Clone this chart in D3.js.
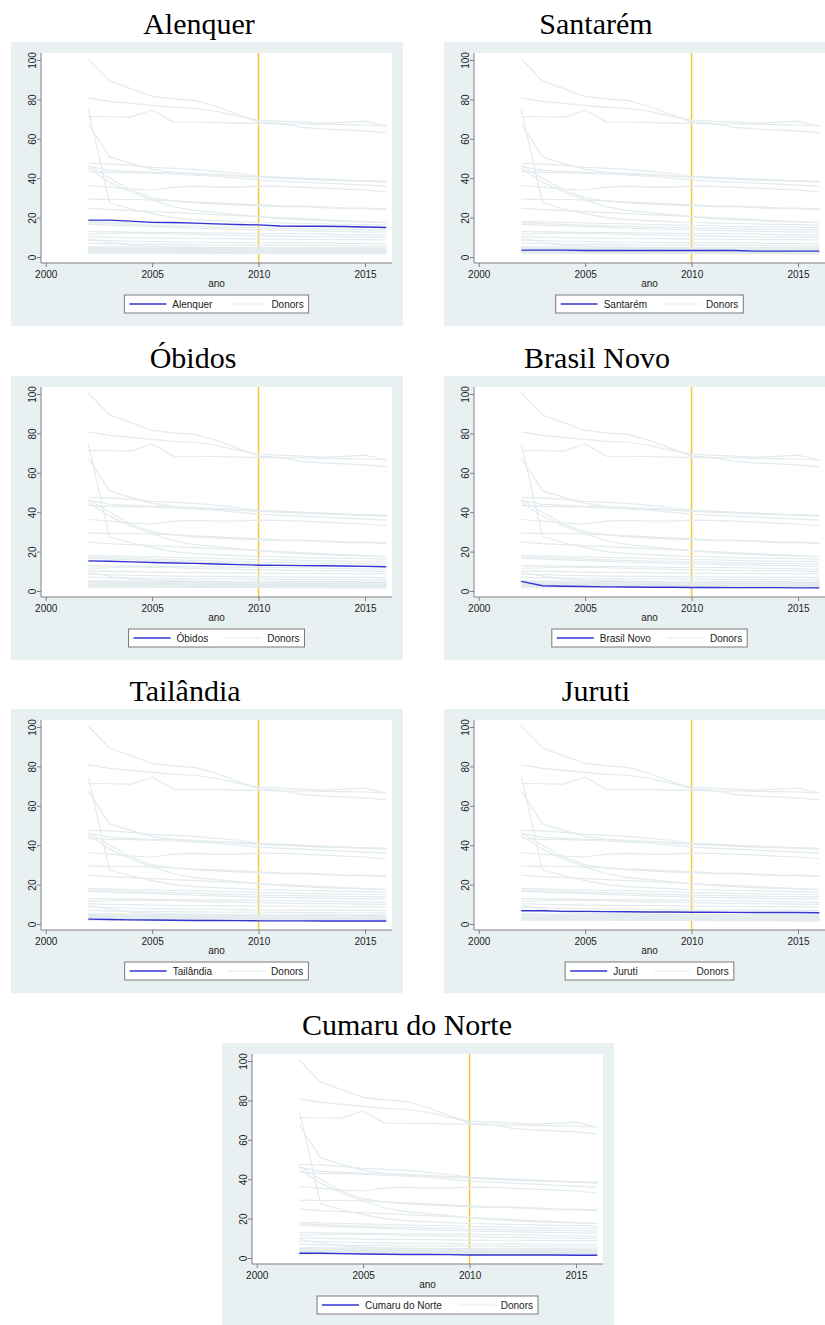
<!DOCTYPE html>
<html>
<head>
<meta charset="utf-8">
<script src="https://cdn.jsdelivr.net/npm/d3@7"></script>
<style>
  body { margin: 0; background: #ffffff; }
  svg { display: block; }
</style>
</head>
<body>
<svg id="chart" width="825" height="1325"></svg>
<script>
// ---- data -------------------------------------------------------------
const years = [2002, 2003, 2004, 2005, 2006, 2007, 2008, 2009, 2010, 2011, 2012, 2013, 2014, 2015, 2016];
const xTicks = [2000, 2005, 2010, 2015];
const yTicks = [0, 20, 40, 60, 80, 100];
const treatmentYear = 2010;

// donor pool trajectories, one row per municipality (2002–2016)
const donorSeries = [
  [100.5, 89.3, 85.5, 81.5, 80.3, 79.5, 76.5, 72.5, 68.5, 67.8, 65.8, 65.0, 64.5, 64.0, 63.0],
  [80.8, 79.0, 78.0, 77.0, 76.0, 75.5, 74.0, 71.5, 69.5, 69.0, 68.5, 68.0, 68.3, 69.0, 66.5],
  [71.3, 71.2, 71.0, 74.6, 68.5, 68.4, 68.3, 68.0, 67.8, 67.6, 67.5, 67.3, 67.2, 67.0, 66.5],
  [67.5, 50.8, 47.5, 44.5, 43.0, 42.0, 41.5, 41.0, 40.5, 40.0, 39.5, 39.0, 38.8, 38.5, 38.3],
  [74.8, 27.5, 24.5, 22.0, 20.0, 19.0, 18.5, 18.0, 17.5, 17.3, 17.0, 16.8, 16.6, 16.4, 16.2],
  [47.5, 47.3, 46.5, 45.5, 45.0, 44.5, 43.5, 42.5, 41.0, 40.5, 40.0, 39.5, 39.0, 38.7, 38.5],
  [46.0, 44.0, 43.5, 43.0, 42.8, 42.5, 42.0, 41.5, 40.5, 40.0, 39.8, 39.5, 39.0, 38.5, 38.0],
  [43.5, 43.0, 42.8, 42.5, 42.0, 41.5, 41.0, 40.0, 39.0, 38.5, 38.0, 37.5, 37.0, 36.5, 36.0],
  [46.5, 40.0, 34.0, 30.0, 28.5, 27.5, 27.0, 26.5, 26.0, 25.5, 25.5, 25.0, 24.5, 24.5, 24.0],
  [45.0, 38.0, 33.0, 29.0, 25.5, 23.5, 22.5, 21.5, 20.5, 19.5, 19.0, 18.5, 18.0, 17.8, 17.5],
  [36.3, 35.5, 34.5, 34.0, 35.5, 35.8, 35.5, 35.5, 36.0, 35.8, 35.5, 35.0, 34.5, 34.0, 33.0],
  [29.4, 29.3, 29.2, 29.0, 28.5, 28.0, 27.5, 27.0, 26.5, 26.0, 25.8, 25.5, 25.0, 24.8, 24.5],
  [24.8, 24.0, 23.5, 23.0, 22.5, 22.0, 21.5, 21.0, 20.5, 20.0, 19.5, 19.0, 18.5, 18.0, 17.5],
  [18.0, 17.8, 17.5, 17.3, 17.0, 16.8, 16.5, 16.3, 16.0, 15.8, 15.5, 15.3, 15.2, 15.1, 15.0],
  [17.3, 17.0, 16.6, 16.2, 15.8, 15.5, 15.2, 15.0, 14.7, 14.5, 14.3, 14.1, 14.0, 13.9, 13.8],
  [16.6, 16.2, 15.8, 15.4, 15.0, 14.6, 14.3, 14.0, 13.7, 13.5, 13.3, 13.1, 12.9, 12.8, 12.7],
  [12.9, 12.8, 12.6, 12.5, 12.4, 12.3, 12.2, 12.0, 12.0, 11.9, 11.8, 11.6, 11.4, 11.2, 11.0],
  [11.5, 11.8, 12.2, 12.0, 11.8, 11.5, 11.2, 11.0, 10.8, 10.6, 10.5, 10.3, 10.2, 10.1, 10.0],
  [10.3, 10.0, 9.8, 9.6, 9.5, 9.4, 9.3, 9.2, 9.1, 9.0, 9.0, 8.9, 8.8, 8.8, 8.7],
  [8.6, 8.3, 8.0, 7.8, 7.6, 7.5, 7.4, 7.3, 7.2, 7.1, 7.0, 7.0, 6.9, 6.9, 6.8],
  [7.0, 6.7, 6.5, 6.4, 6.3, 6.2, 6.1, 6.0, 6.0, 5.9, 5.8, 5.8, 5.7, 5.7, 5.6],
  [9.5, 7.5, 6.0, 5.5, 5.2, 5.0, 4.9, 4.8, 4.8, 4.7, 4.7, 4.6, 4.6, 4.5, 4.5],
  [5.2, 5.1, 5.0, 5.0, 4.9, 4.9, 4.8, 4.8, 4.7, 4.7, 4.6, 4.6, 4.6, 4.5, 4.5],
  [4.8, 4.2, 3.8, 3.6, 3.4, 3.3, 3.2, 3.1, 3.0, 3.0, 2.9, 2.9, 2.8, 2.8, 2.8],
  [4.6, 4.5, 4.4, 4.4, 4.3, 4.3, 4.2, 4.2, 4.1, 4.1, 4.0, 4.0, 4.0, 3.9, 3.9],
  [4.1, 4.0, 3.9, 3.9, 3.8, 3.8, 3.7, 3.7, 3.6, 3.6, 3.6, 3.5, 3.5, 3.5, 3.4],
  [3.6, 3.5, 3.5, 3.4, 3.4, 3.3, 3.3, 3.2, 3.2, 3.2, 3.1, 3.1, 3.1, 3.0, 3.0],
  [3.2, 3.1, 3.1, 3.0, 3.0, 2.9, 2.9, 2.9, 2.8, 2.8, 2.8, 2.7, 2.7, 2.7, 2.6],
  [2.8, 2.7, 2.7, 2.6, 2.6, 2.5, 2.5, 2.5, 2.4, 2.4, 2.4, 2.3, 2.3, 2.3, 2.2],
  [2.4, 2.3, 2.3, 2.2, 2.2, 2.2, 2.1, 2.1, 2.1, 2.0, 2.0, 2.0, 1.9, 1.9, 1.9],
  [2.0, 2.0, 1.9, 1.9, 1.9, 1.8, 1.8, 1.8, 1.8, 1.7, 1.7, 1.7, 1.7, 1.6, 1.6]
];

// treated municipalities
const alenquer     = [18.7, 18.7, 18.2, 17.6, 17.5, 17.2, 16.8, 16.5, 16.3, 15.7, 15.6, 15.6, 15.5, 15.2, 15.0];
const santarem     = [3.5, 3.5, 3.5, 3.3, 3.3, 3.3, 3.3, 3.3, 3.3, 3.3, 3.3, 3.0, 3.0, 3.0, 3.0];
const obidos       = [15.3, 15.1, 14.8, 14.5, 14.2, 14.0, 13.7, 13.4, 13.1, 13.0, 12.9, 12.8, 12.7, 12.5, 12.3];
const brasilNovo   = [4.9, 2.7, 2.4, 2.3, 2.1, 2.0, 1.9, 1.9, 1.8, 1.8, 1.7, 1.7, 1.7, 1.6, 1.6];
const tailandia    = [2.5, 2.3, 2.1, 2.0, 1.9, 1.8, 1.8, 1.7, 1.6, 1.6, 1.6, 1.5, 1.5, 1.5, 1.5];
const juruti       = [6.7, 6.7, 6.4, 6.4, 6.3, 6.2, 6.1, 6.1, 6.0, 6.0, 5.9, 5.8, 5.8, 5.8, 5.7];
const cumaruNorte  = [2.4, 2.4, 2.2, 2.0, 1.9, 1.8, 1.8, 1.7, 1.5, 1.5, 1.5, 1.5, 1.5, 1.4, 1.4];

const panelNames  = ["Alenquer", "Santarém", "Óbidos", "Brasil Novo", "Tailândia", "Juruti", "Cumaru do Norte"];
const panelSeries = [alenquer, santarem, obidos, brasilNovo, tailandia, juruti, cumaruNorte];
const donorLabel  = "Donors";
const xAxisTitle  = "ano";

// ---- layout -----------------------------------------------------------
const W = 392, H = 284;
const plot = { left: 30, right: 381, top: 11, bottom: 221 };
const layout = [
  { x: 11,  y: 42,   tx: 188 },
  { x: 444, y: 42,   tx: 152 },
  { x: 11,  y: 376,  tx: 182 },
  { x: 444, y: 376,  tx: 153 },
  { x: 11,  y: 709,  tx: 174 },
  { x: 444, y: 709,  tx: 152 },
  { x: 222, y: 1043, tx: 185 }
];

const colors = {
  region: "#e9f0f2",
  donor: "#e3ebee",
  treated: "#3434d2",
  xline: "#f3c832",
  axis: "#808080",
  text: "#222222"
};

const x = d3.scaleLinear().domain([2000, 2016]).range([34.7, 375.3]);
const y = d3.scaleLinear().domain([0, 100]).range([215, 18]);

const line = d3.line()
  .x((d, i) => x(years[i]))
  .y(d => y(d));

const svg = d3.select("#chart");

panelNames.forEach((name, p) => {
  const L = layout[p];
  const g = svg.append("g").attr("transform", `translate(${L.x},${L.y})`);

  // title above the graph region
  svg.append("text")
    .attr("x", L.x + L.tx)
    .attr("y", L.y - 8)
    .attr("text-anchor", "middle")
    .style("font-family", "'Liberation Serif', 'Times New Roman', serif")
    .style("font-size", "30px")
    .style("fill", "#000")
    .text(name);

  // graph region + plot region
  g.append("rect").attr("width", W).attr("height", H).attr("fill", colors.region);
  g.append("rect")
    .attr("x", plot.left).attr("y", plot.top)
    .attr("width", plot.right - plot.left).attr("height", plot.bottom - plot.top)
    .attr("fill", "#ffffff");

  // intervention year marker
  g.append("line")
    .attr("x1", x(treatmentYear)).attr("x2", x(treatmentYear))
    .attr("y1", plot.top).attr("y2", plot.bottom)
    .attr("stroke", colors.xline).attr("stroke-width", 1.5);

  // donor trajectories
  g.append("g").selectAll("path")
    .data(donorSeries)
    .join("path")
    .attr("d", line)
    .attr("fill", "none")
    .attr("stroke", colors.donor)
    .attr("stroke-width", 1.2);

  // treated trajectory
  g.append("path")
    .datum(panelSeries[p])
    .attr("d", line)
    .attr("fill", "none")
    .attr("stroke", colors.treated)
    .attr("stroke-width", 1.4);

  // y axis
  const yAxis = g.append("g")
    .attr("transform", `translate(${plot.left},0)`)
    .call(d3.axisLeft(y).tickValues(yTicks).tickSize(4).tickSizeOuter(0).tickPadding(5));
  yAxis.select(".domain").attr("d", `M0,${plot.top}V${plot.bottom}`);
  yAxis.selectAll("text")
    .attr("x", null).attr("dy", null)
    .attr("transform", "translate(-5.5,0) rotate(-90)")
    .attr("text-anchor", "middle");

  // x axis
  const xAxis = g.append("g")
    .attr("transform", `translate(0,${plot.bottom})`)
    .call(d3.axisBottom(x).tickValues(xTicks).tickFormat(d3.format("d")).tickSize(4).tickSizeOuter(0).tickPadding(4));
  xAxis.select(".domain").attr("d", `M${plot.left},0H${plot.right}`);

  [yAxis, xAxis].forEach(a => {
    a.select(".domain").attr("stroke", colors.axis).attr("stroke-width", 1);
    a.selectAll(".tick line").attr("stroke", colors.axis);
    a.selectAll("text")
      .style("font-family", "'Liberation Sans', Arial, sans-serif")
      .style("font-size", "10px")
      .attr("fill", colors.text);
  });
  xAxis.selectAll("text").attr("y", 8).attr("dy", "0.71em");

  const cx = (plot.left + plot.right) / 2;
  g.append("text")
    .attr("x", cx).attr("y", 245)
    .attr("text-anchor", "middle")
    .style("font-family", "'Liberation Sans', Arial, sans-serif")
    .style("font-size", "10px")
    .attr("fill", colors.text)
    .text(xAxisTitle);

  // legend
  const lg = g.append("g");
  const box = lg.append("rect");
  const keyLen = 37, gap = 6, colGap = 16, pad = 5, baseY = 265.5, keyY = 262;
  let cursor = 0;
  const items = [
    { label: name, color: colors.treated, w: 1.4 },
    { label: donorLabel, color: colors.donor, w: 1.2 }
  ];
  items.forEach((it, i) => {
    if (i > 0) cursor += colGap;
    lg.append("line")
      .attr("x1", cursor).attr("x2", cursor + keyLen)
      .attr("y1", keyY).attr("y2", keyY)
      .attr("stroke", it.color).attr("stroke-width", it.w);
    cursor += keyLen + gap;
    const t = lg.append("text")
      .attr("x", cursor).attr("y", baseY)
      .style("font-family", "'Liberation Sans', Arial, sans-serif")
      .style("font-size", "10px")
      .attr("fill", colors.text)
      .text(it.label);
    cursor += t.node().getComputedTextLength();
  });
  const total = cursor + 2 * pad;
  box.attr("x", -pad).attr("y", 253).attr("width", total).attr("height", 18)
    .attr("fill", "#ffffff").attr("stroke", "#7a7a7a").attr("stroke-width", 1);
  lg.attr("transform", `translate(${cx - total / 2 + pad},0)`);
});
</script>
</body>
</html>
